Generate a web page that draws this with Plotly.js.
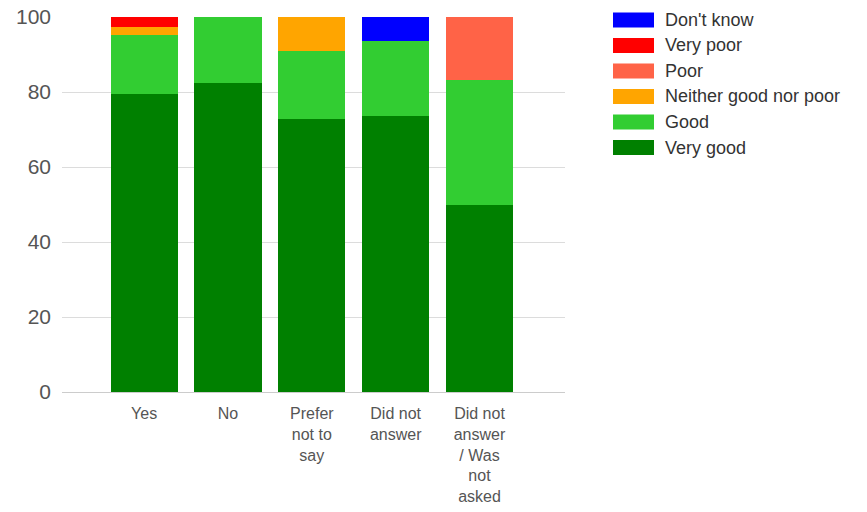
<!DOCTYPE html>
<html>
<head>
<meta charset="utf-8">
<script src="https://cdn.plot.ly/plotly-3.0.1.min.js"></script>
<style>html,body{margin:0;padding:0;background:#fff;}#chart{width:867px;height:512px;}</style>
</head>
<body>
<div id="chart"></div>
<script>
// ---- data ----
const categories = ["Yes", "No", "Prefer not to say", "Did not answer", "Did not answer / Was not asked"];
const tickLabels = ["Yes", "No", "Prefer<br>not to<br>say", "Did not<br>answer", "Did not<br>answer<br>/ Was<br>not<br>asked"];
const veryGood = [79.5, 82.5, 72.7, 73.6, 50.0];
const good     = [15.6, 17.5, 18.2, 20.1, 33.3];
const neither  = [2.2, 0, 9.1, 0, 0];
const poor     = [0, 0, 0, 0, 16.7];
const veryPoor = [2.7, 0, 0, 0, 0];
const dontKnow = [0, 0, 0, 6.3, 0];
const seriesNames = ["Very good", "Good", "Neither good nor poor", "Poor", "Very poor", "Don't know"];
const seriesValues = [veryGood, good, neither, poor, veryPoor, dontKnow];
const seriesColors = ["#008000", "#32cd32", "#ffa500", "#ff6347", "#ff0000", "#0000ff"];

// ---- layout geometry ----
const W = 867, H = 512;
const M = {l: 62, r: 302, t: 17, b: 120};
const pw = W - M.l - M.r, ph = H - M.t - M.b;
const px2x = p => (p - M.l) / pw;
const py2y = p => (H - M.b - p) / ph;

const traces = seriesNames.map((n, i) => ({
  type: 'bar', name: n, x: categories, y: seriesValues[i],
  marker: {color: seriesColors[i], line: {width: 0}},
  showlegend: false, hoverinfo: 'skip'
}));

// custom legend (top to bottom = reverse stacking order)
const shapes = [], annotations = [];
const legendOrder = seriesNames.map((_, i) => i).reverse();
legendOrder.forEach((idx, row) => {
  const cy = 20 + row * 25.5;
  shapes.push({type: 'rect', xref: 'paper', yref: 'paper',
    x0: px2x(613), x1: px2x(654), y0: py2y(cy + 7.5), y1: py2y(cy - 7.5),
    fillcolor: seriesColors[idx], line: {width: 0}});
  annotations.push({xref: 'paper', yref: 'paper', x: px2x(663), y: py2y(cy),
    xanchor: 'left', yanchor: 'middle', showarrow: false, text: seriesNames[idx],
    font: {family: 'Liberation Sans, Arial, sans-serif', size: 18, color: '#333'}});
});

const layout = {
  width: W, height: H, margin: M,
  paper_bgcolor: '#fff', plot_bgcolor: '#fff',
  barmode: 'stack', bargap: 0.2,
  showlegend: false,
  xaxis: {type: 'category', range: [-0.98, 5.02], tickvals: categories, ticktext: tickLabels,
    showgrid: false, zeroline: false, showline: false, ticks: '',
    ticklabelstandoff: 10,
    tickfont: {family: 'Liberation Sans, Arial, sans-serif', size: 16, color: '#555'}},
  yaxis: {range: [0, 100], dtick: 20, showgrid: true, gridcolor: '#dcdcdc', gridwidth: 1,
    zeroline: true, zerolinecolor: '#cccccc', zerolinewidth: 1, showline: false, ticks: '',
    ticklabelstandoff: 10,
    tickfont: {family: 'Liberation Sans, Arial, sans-serif', size: 21, color: '#555'}},
  shapes: shapes, annotations: annotations
};

Plotly.newPlot('chart', traces, layout, {displayModeBar: false, staticPlot: true});
</script>
</body>
</html>
